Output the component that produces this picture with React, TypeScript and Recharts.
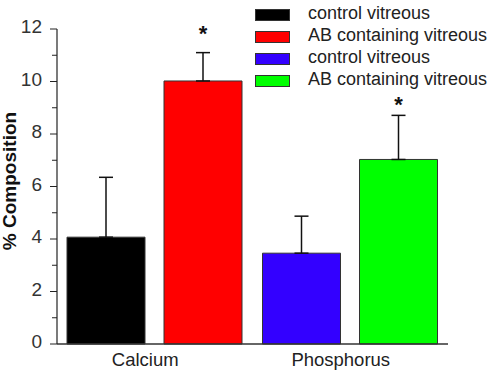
import { Bar, BarChart, Cell, ErrorBar, LabelList, Legend, XAxis, YAxis, Label } from 'recharts'

const FONT = '"Liberation Sans", Arial, sans-serif'

const categories = ['Calcium', 'Phosphorus']
const controlValues = [4.07, 3.46]
const controlErrors = [2.28, 1.41]
const abValues = [10.02, 7.03]
const abErrors = [1.08, 1.68]
// where the significance asterisk sits (in % units)
const abStars = [11.9, 9.2]
const controlColors = ['#000000', '#3300ff']
const abColors = ['#ff0000', '#00ff00']
const legendLabels = ['control vitreous', 'AB containing vitreous', 'control vitreous', 'AB containing vitreous']
const legendColors = ['#000000', '#ff0000', '#3300ff', '#00ff00']
const yTicks = [0, 1, 2, 3, 4, 5, 6, 7, 8, 9, 10, 11, 12]

const chartData = categories.map((name, i) => ({
  name,
  control: controlValues[i],
  controlErr: [0, controlErrors[i]],
  ab: abValues[i],
  abErr: [0, abErrors[i]],
  star: abStars[i],
}))

function YTick(props: any) {
  const { x, y, payload } = props
  const major = payload.value % 2 === 0
  return (
    <g>
      <line x1={x - (major ? 7 : 5)} x2={x} y1={y} y2={y} stroke="#222" strokeWidth={1} />
      {major && (
        <text x={x - 15} y={y + 4} textAnchor="end" fontSize={19} fontFamily={FONT} fill="#333">
          {payload.value}
        </text>
      )}
    </g>
  )
}

function CatTick(props: any) {
  const { x, y, payload } = props
  return (
    <text x={x - 9.5} y={y + 21.5} textAnchor="middle" fontSize={18.5} fontFamily={FONT} fill="#222">
      {payload.value}
    </text>
  )
}

function Star(props: any) {
  const { x, y, width, height, value, index } = props
  const pxPerUnit = height / value
  const cy = y + height - chartData[index].star * pxPerUnit
  return (
    <text x={x + width / 2} y={cy + 9} textAnchor="middle" fontSize={22} fontWeight="bold" fontFamily={FONT} fill="#111">
      *
    </text>
  )
}

function LegendBox() {
  return (
    <div style={{ fontFamily: FONT }}>
      {legendLabels.map((label, i) => (
        <div key={i} style={{ display: 'flex', alignItems: 'center', height: 22 }}>
          <div
            style={{
              width: 33,
              height: 10,
              backgroundColor: legendColors[i],
              border: '1px solid #333',
              marginRight: 18,
            }}
          />
          <span style={{ fontSize: 18, color: '#222', position: 'relative', top: -2, whiteSpace: 'nowrap' }}>
            {label}
          </span>
        </div>
      ))}
    </div>
  )
}

export default function App() {
  return (
    <div style={{ position: 'absolute', left: 0, top: 0, width: 500, height: 373, background: '#fff' }}>
      <BarChart
        width={500}
        height={373}
        data={chartData}
        margin={{ top: 29, right: 52, bottom: 4, left: 10 }}
        barGap={19}
        barCategoryGap="5%"
      >
        <XAxis
          dataKey="name"
          height={25}
          tickLine={false}
          tickSize={0}
          tickMargin={0}
          axisLine={{ stroke: '#333', strokeWidth: 1.5 }}
          tick={CatTick}
        />
        <YAxis
          width={47}
          domain={[0, 12]}
          ticks={yTicks}
          interval={0}
          tickLine={false}
          tickSize={0}
          tickMargin={0}
          axisLine={{ stroke: '#222', strokeWidth: 1.2 }}
          tick={YTick}
        >
          <Label
            content={() => (
              <text
                transform="translate(16, 181) rotate(-90)"
                textAnchor="middle"
                fontSize={19}
                fontWeight="bold"
                fontFamily={FONT}
                fill="#111"
              >
                % Composition
              </text>
            )}
          />
        </YAxis>
        <Legend
          layout="vertical"
          align="center"
          verticalAlign="middle"
          wrapperStyle={{ position: 'absolute', left: 255, top: 4, width: 245 }}
          content={() => <LegendBox />}
        />
        <Bar dataKey="control" barSize={78} stroke="#333" strokeWidth={1} isAnimationActive={false}>
          {chartData.map((_, i) => (
            <Cell key={i} fill={controlColors[i]} />
          ))}
          <ErrorBar dataKey="controlErr" direction="y" width={7} stroke="#111" strokeWidth={1.5} />
        </Bar>
        <Bar dataKey="ab" barSize={78} stroke="#333" strokeWidth={1} isAnimationActive={false}>
          {chartData.map((_, i) => (
            <Cell key={i} fill={abColors[i]} />
          ))}
          <ErrorBar dataKey="abErr" direction="y" width={7} stroke="#111" strokeWidth={1.5} />
          <LabelList dataKey="ab" content={Star} />
        </Bar>
      </BarChart>
    </div>
  )
}
